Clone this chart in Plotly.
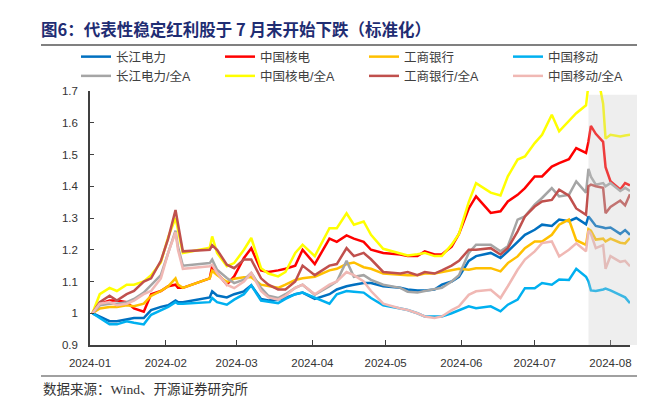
import plotly.graph_objects as go
from datetime import datetime

# ---------------- data ----------------
dates = [
    "2024-01-02", "2024-01-05", "2024-01-09", "2024-01-12", "2024-01-16", "2024-01-19", "2024-01-23", "2024-01-26", "2024-01-30",
    "2024-02-02", "2024-02-05", "2024-02-06", "2024-02-08", "2024-02-19", "2024-02-20", "2024-02-22", "2024-02-26", "2024-02-29",
    "2024-03-04", "2024-03-07", "2024-03-11", "2024-03-14", "2024-03-18", "2024-03-21", "2024-03-25", "2024-03-28",
    "2024-04-02", "2024-04-08", "2024-04-11", "2024-04-15", "2024-04-18", "2024-04-22", "2024-04-25", "2024-04-30",
    "2024-05-07", "2024-05-10", "2024-05-14", "2024-05-17", "2024-05-21", "2024-05-24", "2024-05-28", "2024-05-31",
    "2024-06-04", "2024-06-07", "2024-06-13", "2024-06-17", "2024-06-20", "2024-06-24", "2024-06-27",
    "2024-07-01", "2024-07-04", "2024-07-08", "2024-07-11", "2024-07-15", "2024-07-18", "2024-07-22", "2024-07-23",
    "2024-07-24", "2024-07-26", "2024-07-29", "2024-07-30",
    "2024-08-01", "2024-08-05", "2024-08-07", "2024-08-09",
]

cjdl = [1.0, 0.99, 0.975, 0.975, 0.98, 0.985, 0.985, 1.01, 1.02,
        1.025, 1.04, 1.035, 1.035, 1.05, 1.069, 1.056, 1.05, 1.06,
        1.069, 1.088, 1.045, 1.04, 1.043, 1.048, 1.06, 1.065,
        1.045, 1.06, 1.075, 1.085, 1.09, 1.095, 1.095, 1.085,
        1.08, 1.075, 1.072, 1.072, 1.075, 1.09, 1.1, 1.115,
        1.165, 1.18, 1.19, 1.174, 1.195, 1.226, 1.247,
        1.263, 1.279, 1.275, 1.295, 1.29, 1.3, 1.28, 1.305, 1.295, 1.275, 1.27, 1.268,
        1.27, 1.25, 1.262, 1.247]

zghd = [1.0, 1.03, 1.04, 1.04, 1.035, 1.015, 1.005, 1.06, 1.07,
        1.085, 1.09, 1.08, 1.08, 1.11, 1.148, 1.127, 1.09, 1.116,
        1.174, 1.205, 1.135, 1.13, 1.135, 1.14, 1.15, 1.2,
        1.155, 1.235, 1.225, 1.245, 1.235, 1.225, 1.2, 1.19,
        1.185, 1.18, 1.18, 1.195, 1.185, 1.185, 1.21, 1.25,
        1.33, 1.368, 1.316, 1.321, 1.352, 1.373, 1.394,
        1.431, 1.431, 1.462, 1.473, 1.485, 1.52, 1.505, 1.54, 1.59, 1.565, 1.54, 1.46,
        1.416, 1.39, 1.41, 1.403]

gsyh = [1.0, 1.015, 1.02, 1.02, 1.025, 1.022, 1.03, 1.055, 1.07,
        1.085, 1.11, 1.09, 1.08, 1.11, 1.134, 1.12, 1.098, 1.109,
        1.113, 1.113, 1.09, 1.085, 1.08, 1.09, 1.105, 1.11,
        1.115, 1.135, 1.14, 1.155, 1.16, 1.145, 1.14, 1.125,
        1.12, 1.12, 1.12, 1.125, 1.125, 1.13, 1.135, 1.14,
        1.137, 1.142, 1.142, 1.132, 1.158, 1.179, 1.205,
        1.226, 1.226, 1.247, 1.279, 1.295, 1.23, 1.215, 1.265, 1.26, 1.232, 1.235, 1.226,
        1.235, 1.222, 1.22, 1.237]

zgyd = [1.0, 0.985, 0.965, 0.965, 0.975, 0.97, 0.965, 0.995, 1.01,
        1.02, 1.035, 1.03, 1.03, 1.035, 1.048, 1.035, 1.027, 1.043,
        1.06, 1.088, 1.04, 1.037, 1.032, 1.045, 1.06, 1.065,
        1.05, 1.03, 1.06, 1.07, 1.068, 1.065, 1.048, 1.025,
        1.015, 1.01, 1.0, 0.99, 0.99, 0.99, 1.0, 1.01,
        1.022, 1.016, 1.022, 1.006, 1.027, 1.043, 1.079,
        1.079, 1.095, 1.09, 1.106, 1.105, 1.14, 1.115, 1.1, 1.072, 1.07, 1.075, 1.078,
        1.072, 1.058, 1.05, 1.032]

cjdl_a = [1.0, 1.025, 1.03, 1.03, 1.035, 1.045, 1.065, 1.09, 1.12,
          1.19, 1.26, 1.21, 1.15, 1.158, 1.169, 1.137, 1.111, 1.095,
          1.106, 1.127, 1.08, 1.055, 1.048, 1.06, 1.08, 1.09,
          1.058, 1.085, 1.1, 1.165, 1.115, 1.12, 1.105, 1.09,
          1.08, 1.068, 1.065, 1.07, 1.075, 1.08, 1.1, 1.12,
          1.19, 1.216, 1.216, 1.195, 1.211, 1.295, 1.305,
          1.342, 1.363, 1.394, 1.368, 1.373, 1.415, 1.38, 1.455, 1.43, 1.405, 1.41, 1.4,
          1.41, 1.385, 1.395, 1.385]

zghd_a = [1.0, 1.06, 1.08, 1.07, 1.09, 1.09, 1.10, 1.12, 1.16,
          1.24, 1.30, 1.26, 1.19, 1.206, 1.242, 1.19, 1.148, 1.158,
          1.2, 1.237, 1.142, 1.125, 1.116, 1.13, 1.19, 1.216,
          1.18, 1.268, 1.268, 1.315, 1.279, 1.289, 1.247, 1.203,
          1.19, 1.182, 1.186, 1.19, 1.18, 1.18, 1.216, 1.25,
          1.35, 1.41, 1.38, 1.371, 1.431, 1.484, 1.494,
          1.536, 1.562, 1.625, 1.573, 1.604, 1.63, 1.655, 1.72, 1.75, 1.78, 1.66, 1.55,
          1.562, 1.557, 1.56, 1.562]

gsyh_a = [1.0, 1.035, 1.055, 1.04, 1.06, 1.07, 1.10, 1.11, 1.165,
          1.235, 1.325, 1.28, 1.195, 1.2, 1.214, 1.2, 1.153, 1.142,
          1.169, 1.169, 1.11, 1.09, 1.075, 1.075, 1.1, 1.15,
          1.12, 1.15, 1.155, 1.205, 1.18, 1.19, 1.17, 1.13,
          1.125, 1.13, 1.12, 1.13, 1.125, 1.135, 1.15, 1.165,
          1.2, 1.2, 1.205, 1.185, 1.205, 1.258, 1.305,
          1.336, 1.352, 1.357, 1.389, 1.37, 1.33, 1.31, 1.4, 1.405, 1.4, 1.395, 1.315,
          1.335, 1.355, 1.34, 1.375]

zgyd_a = [1.0, 1.03, 1.035, 1.025, 1.03, 1.04, 1.06, 1.07, 1.11,
          1.19, 1.255, 1.2, 1.14, 1.148, 1.153, 1.127, 1.09, 1.079,
          1.1, 1.127, 1.07, 1.05, 1.043, 1.055, 1.08, 1.09,
          1.06, 1.09, 1.1, 1.13, 1.12, 1.1, 1.07, 1.03,
          1.015, 1.01, 1.0, 0.99, 0.985, 0.99, 1.01, 1.022,
          1.058, 1.069, 1.074, 1.048, 1.085, 1.137, 1.169,
          1.195, 1.221, 1.226, 1.179, 1.2, 1.22, 1.195, 1.26, 1.25, 1.205, 1.215, 1.14,
          1.18, 1.162, 1.165, 1.148]

names = ["长江电力", "中国核电", "工商银行", "中国移动",
         "长江电力/全A", "中国核电/全A", "工商银行/全A", "中国移动/全A"]
values = [cjdl, zghd, gsyh, zgyd, cjdl_a, zghd_a, gsyh_a, zgyd_a]
colors = ["#0070C0", "#FF0000", "#FFC000", "#00B0F0",
          "#A5A5A5", "#FFFF00", "#C0504D", "#F0B8B4"]

x_start, x_end = "2024-01-01", "2024-08-09"
shade_start, shade_end, shade_top = "2024-07-23", "2024-08-12", 1.688

title_text = "图6：代表性稳定红利股于 7 月末开始下跌（标准化）"
source_text = "数据来源：Wind、开源证券研究所"

# ---------------- figure ----------------
W, H = 645, 398
L, R, T, B = 82, 23, 83, 61
pw, ph = W - L - R, H - T - B

def px_x(px):
    return (px - L) / pw

def px_y(py):
    return (H - B - py) / ph

r0, r1 = datetime.fromisoformat(x_start), datetime.fromisoformat(x_end)
def date_paper(d):
    return (datetime.fromisoformat(d) - r0).total_seconds() / (r1 - r0).total_seconds()

fig = go.Figure()
for n, v, c in zip(names, values, colors):
    fig.add_trace(go.Scatter(x=dates, y=v, name=n, mode="lines",
                             line=dict(color=c, width=2.5)))

font_lat = "Liberation Sans, Noto Sans CJK SC, sans-serif"

fig.update_layout(
    width=W, height=H,
    margin=dict(l=L, r=R, t=T, b=B, autoexpand=False),
    paper_bgcolor="white", plot_bgcolor="white",
    showlegend=True,
    legend=dict(orientation="h", x=px_x(68), y=px_y(34), xanchor="left", yanchor="top",
                entrywidth=99, font=dict(family=font_lat, size=12.5, color="#404040"),
                bgcolor="rgba(0,0,0,0)", traceorder="normal"),
    title=dict(text=title_text, x=33 / W, xref="container", xanchor="left",
               y=1 - 22 / H, yref="container", yanchor="middle",
               font=dict(family="Noto Sans CJK SC", size=16.5, color="#1F2D73", weight="bold")),
    xaxis=dict(type="date", range=[x_start, x_end], tickformat="%Y-%m", dtick="M1",
               tick0="2024-01-01", ticks="inside", ticklen=5, tickcolor="#404040",
               showline=True, linecolor="#404040", linewidth=1.5, showgrid=False,
               zeroline=False, ticklabelstandoff=6,
               tickfont=dict(family=font_lat, size=11.5, color="#333333")),
    yaxis=dict(range=[0.9, 1.7], dtick=0.1, tick0=0.9, ticks="inside", ticklen=4,
               tickcolor="#404040", showline=True, linecolor="#404040", linewidth=1.5,
               showgrid=False, zeroline=False, ticklabelstandoff=8,
               tickfont=dict(family=font_lat, size=11.5, color="#333333")),
    shapes=[
        dict(type="rect", xref="paper", yref="y",
             x0=date_paper(shade_start), x1=date_paper(shade_end), y0=0.9, y1=shade_top,
             fillcolor="rgba(200,200,200,0.3)", line=dict(width=0), layer="above"),
        dict(type="line", xref="paper", yref="paper",
             x0=px_x(33), x1=px_x(W), y0=px_y(37), y1=px_y(37),
             line=dict(color="#808080", width=2)),
        dict(type="line", xref="paper", yref="paper",
             x0=px_x(33), x1=px_x(W), y0=px_y(368), y1=px_y(368),
             line=dict(color="#808080", width=1.5)),
    ],
    annotations=[
        dict(text=source_text, xref="paper", yref="paper", x=px_x(33), y=px_y(381),
             xanchor="left", yanchor="middle", showarrow=False,
             font=dict(family="Liberation Serif, Noto Sans CJK SC, serif", size=13.5, color="#333333")),
    ],
)

fig.write_html("out.html")
